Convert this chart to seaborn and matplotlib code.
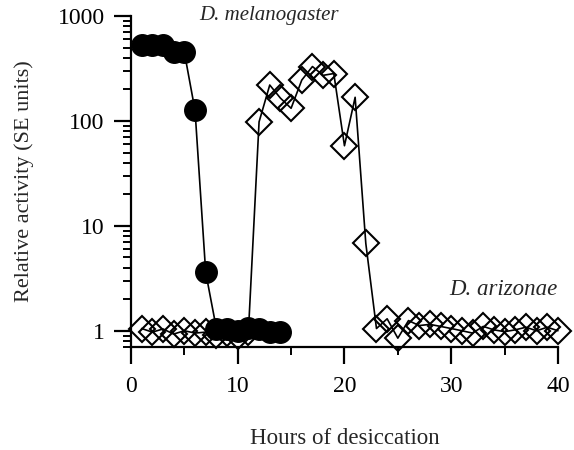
import matplotlib
matplotlib.use("Agg")
import matplotlib.pyplot as plt
from matplotlib.ticker import FixedLocator, NullFormatter
import numpy as np
import pandas as pd
import seaborn as sns

# Activity over hours of desiccation, two Drosophila species
mel_hours = [1, 2, 3, 4, 5, 6, 7, 8, 9, 10, 11, 12, 13, 14]
mel_activity = [530, 530, 530, 455, 450, 126, 3.6, 1.05, 1.05, 1.0, 1.07, 1.03, 0.97, 0.98]

ari_hours = list(range(1, 41))
ari_activity = [1.05, 0.97, 1.04, 0.93, 1.0, 0.95, 0.97, 0.92, 0.95, 0.9,
                0.97, 98, 220, 165, 132, 245, 330, 272, 283, 58,
                168, 6.8, 1.05, 1.3, 0.85, 1.25, 1.12, 1.15, 1.1, 1.05,
                1.0, 0.95, 1.1, 1.02, 0.98, 1.02, 1.08, 1.0, 1.08, 1.0]

x_ticks = [0, 10, 20, 30, 40]
y_ticks = [1, 10, 100, 1000]
y_tick_labels = ["1", "10", "100", "1000"]

mel = pd.DataFrame({"hours": mel_hours, "activity": mel_activity})
ari = pd.DataFrame({"hours": ari_hours, "activity": ari_activity})

sns.set_style("ticks")
plt.rcParams["font.family"] = ["Liberation Serif", "DejaVu Serif"]

fig = plt.figure(figsize=(5.74, 4.5), dpi=100)
ax = fig.add_axes([0.2282, 0.2289, 0.972 - 0.2282, 0.9644 - 0.2289])

sns.lineplot(data=ari, x="hours", y="activity", ax=ax, color="black",
             linewidth=1.2, marker="D", markersize=13, markerfacecolor="none",
             markeredgecolor="black", markeredgewidth=1.5,
             estimator=None, sort=False, clip_on=False, zorder=3)
sns.lineplot(data=mel, x="hours", y="activity", ax=ax, color="black",
             linewidth=1.2, marker="o", markersize=15.5, markerfacecolor="black",
             markeredgecolor="black", markeredgewidth=1.0,
             estimator=None, sort=False, clip_on=False, zorder=4)

ax.set_yscale("log")
ax.set_ylim(0.7, 1000)
ax.set_xlim(0, 40)

ax.xaxis.set_major_locator(FixedLocator(x_ticks))
ax.xaxis.set_minor_locator(FixedLocator([5, 15, 25, 35]))
ax.set_xticklabels([str(t) for t in x_ticks])

minor_y = [0.7, 0.8, 0.9] + [m * d for d in (1, 10, 100) for m in range(2, 10)]
ax.yaxis.set_major_locator(FixedLocator(y_ticks))
ax.yaxis.set_minor_locator(FixedLocator(minor_y))
ax.yaxis.set_minor_formatter(NullFormatter())
ax.set_yticklabels(y_tick_labels)

for side in ("top", "right"):
    ax.spines[side].set_visible(False)
for side in ("left", "bottom"):
    ax.spines[side].set_linewidth(1.6)
    ax.spines[side].set_color("black")

ax.tick_params(which="major", direction="out", length=12, width=1.6,
               labelsize=17, colors="black")
ax.tick_params(which="minor", direction="out", length=6, width=1.4, colors="black")
ax.tick_params(axis="y", which="major", pad=7)
ax.tick_params(axis="x", which="major", pad=9)

ax.set_xlabel("Hours of desiccation", fontsize=16.5, labelpad=22)
ax.set_ylabel("Relative activity (SE units)", fontsize=16, labelpad=17)

ax.text(12.9, 920, "D. melanogaster", fontsize=15, style="italic",
        ha="center", va="baseline", clip_on=False)
ax.text(29.8, 2.45, "D. arizonae", fontsize=16.5, style="italic",
        ha="left", va="center")

fig.savefig("out.png", dpi=100)
